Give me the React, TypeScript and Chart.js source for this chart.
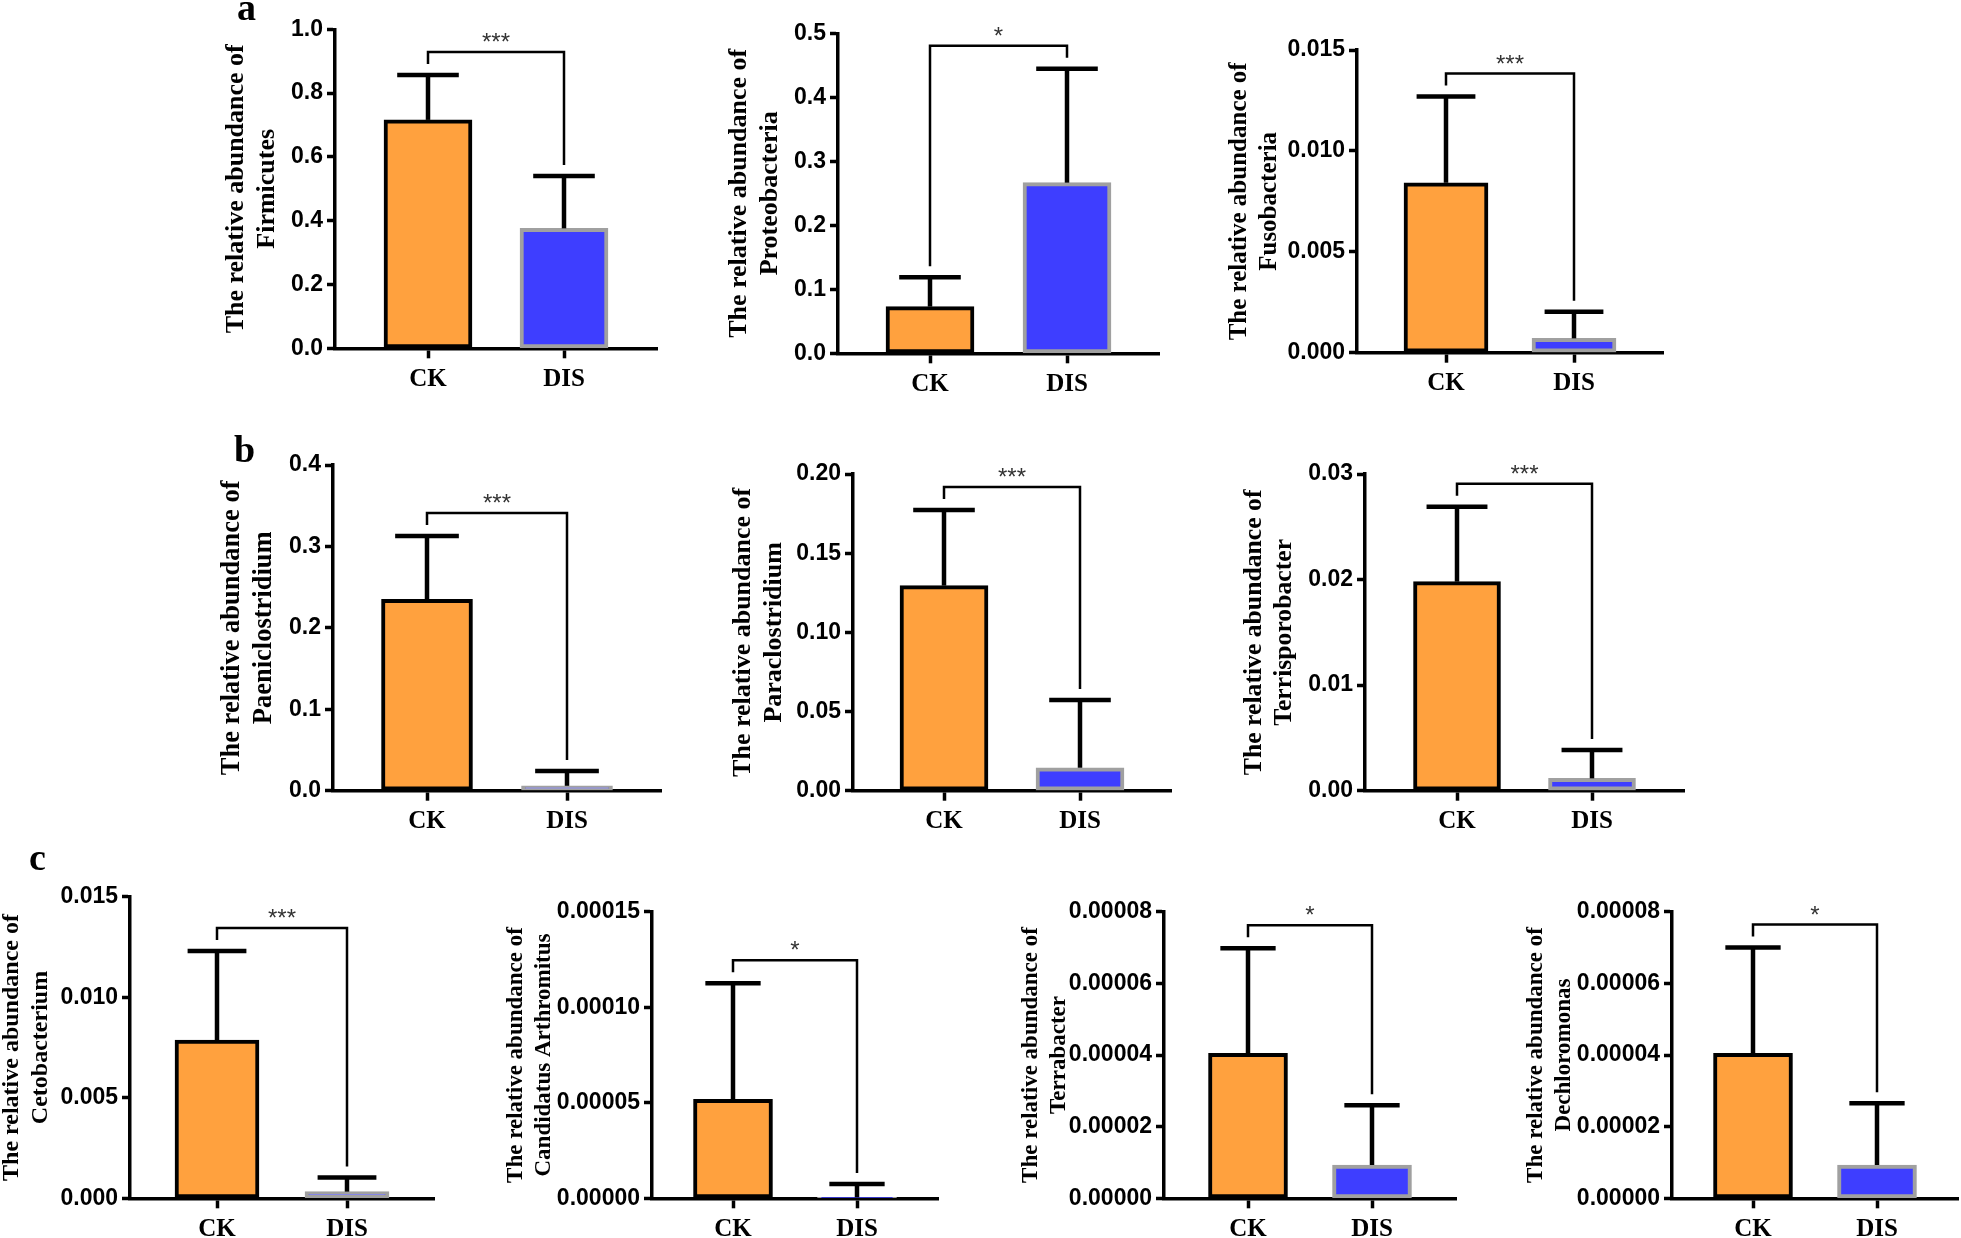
import React, { useEffect, useRef } from 'react';
import { Chart, registerables } from 'chart.js';

Chart.register(...registerables);

// ---------------- data ----------------
const CATEGORIES = ['CK', 'DIS'];
const TAXA = [
  'Firmicutes',
  'Proteobacteria',
  'Fusobacteria',
  'Paeniclostridium',
  'Paraclostridium',
  'Terrisporobacter',
  'Cetobacterium',
  'Candidatus Arthromitus',
  'Terrabacter',
  'Dechloromonas',
];
const MEAN_CK = [0.716, 0.0729, 0.00842, 0.235, 0.1295, 0.0198, 0.00787, 0.0000518, 0.0000405, 0.0000405];
const SD_CK = [0.141, 0.046, 0.00427, 0.0778, 0.0478, 0.0071, 0.00443, 0.0000607, 0.0000293, 0.0000295];
const MEAN_DIS = [0.376, 0.2666, 0.00071, 0.006, 0.0145, 0.00117, 0.00033, 0.0000005, 0.0000093, 0.0000093];
const SD_DIS = [0.164, 0.178, 0.00132, 0.0182, 0.0428, 0.00269, 0.00071, 0.000007, 0.0000167, 0.0000172];
const SIGNIFICANCE = ['***', '*', '***', '***', '***', '***', '***', '*', '*', '*'];

const Y_TICKS_A1 = ['0.0', '0.2', '0.4', '0.6', '0.8', '1.0'];
const Y_TICKS_A2 = ['0.0', '0.1', '0.2', '0.3', '0.4', '0.5'];
const Y_TICKS_A3 = ['0.000', '0.005', '0.010', '0.015'];
const Y_TICKS_B1 = ['0.0', '0.1', '0.2', '0.3', '0.4'];
const Y_TICKS_B2 = ['0.00', '0.05', '0.10', '0.15', '0.20'];
const Y_TICKS_B3 = ['0.00', '0.01', '0.02', '0.03'];
const Y_TICKS_C1 = ['0.000', '0.005', '0.010', '0.015'];
const Y_TICKS_C2 = ['0.00000', '0.00005', '0.00010', '0.00015'];
const Y_TICKS_C3 = ['0.00000', '0.00002', '0.00004', '0.00006', '0.00008'];
const Y_TICKS_C4 = ['0.00000', '0.00002', '0.00004', '0.00006', '0.00008'];
const Y_TICKS = [
  Y_TICKS_A1, Y_TICKS_A2, Y_TICKS_A3,
  Y_TICKS_B1, Y_TICKS_B2, Y_TICKS_B3,
  Y_TICKS_C1, Y_TICKS_C2, Y_TICKS_C3, Y_TICKS_C4,
];

const PANEL_LETTERS = ['a', 'b', 'c'];

// ---------------- layout / style ----------------
const LAYOUT = [
  { yAxisX: 335, topY: 29.3, zeroY: 348.3, ckX: 428, disX: 564, titleX: 236, titleSize: 26, barW: 88 },
  { yAxisX: 838, topY: 33.3, zeroY: 353.3, ckX: 930, disX: 1067, titleX: 738.5, titleSize: 26, barW: 88 },
  { yAxisX: 1357, topY: 50, zeroY: 352.7, ckX: 1446, disX: 1574, titleX: 1240, titleSize: 25, barW: 84 },
  { yAxisX: 333, topY: 465, zeroY: 790.7, ckX: 427, disX: 567, titleX: 232, titleSize: 26.5, barW: 91 },
  { yAxisX: 853, topY: 474, zeroY: 790.7, ckX: 944, disX: 1080, titleX: 743, titleSize: 26, barW: 88 },
  { yAxisX: 1365, topY: 474, zeroY: 790.7, ckX: 1457, disX: 1592, titleX: 1254, titleSize: 25.7, barW: 87 },
  { yAxisX: 130, topY: 896.7, zeroY: 1198.3, ckX: 217, disX: 347, titleX: 12, titleSize: 24, barW: 84 },
  { yAxisX: 652, topY: 911.7, zeroY: 1198.3, ckX: 733, disX: 857, titleX: 516, titleSize: 23, barW: 79 },
  { yAxisX: 1164, topY: 911.7, zeroY: 1198.3, ckX: 1248, disX: 1372, titleX: 1030.5, titleSize: 23, barW: 79 },
  { yAxisX: 1672, topY: 911.7, zeroY: 1198.3, ckX: 1753, disX: 1877, titleX: 1535.5, titleSize: 23, barW: 79 },
];
const LETTER_POS = [
  { left: 237, top: -12 },
  { left: 234, top: 430 },
  { left: 29, top: 838 },
];

const ORANGE = 'rgb(255,161,62)';
const BLUE = 'rgb(62,62,255)';
const GREY = 'rgb(160,160,160)';
const SERIF = '"Liberation Serif", "Times New Roman", serif';
const SANS = '"Liberation Sans", Arial, sans-serif';

function makeOverlay(idx: number) {
  return {
    id: 'errSig' + idx,
    afterDatasetsDraw(chart: any) {
      const ctx = chart.ctx;
      const meta = chart.getDatasetMeta(0);
      const ys = chart.scales.y;
      const means = [MEAN_CK[idx], MEAN_DIS[idx]];
      const sds = [SD_CK[idx], SD_DIS[idx]];
      const capYs: number[] = [];
      const xs: number[] = [];
      ctx.save();
      ctx.strokeStyle = '#000';
      ctx.lineCap = 'butt';
      meta.data.forEach((el: any, i: number) => {
        const x = el.x;
        const w = el.width;
        const yTop = ys.getPixelForValue(means[i]);
        const yCap = ys.getPixelForValue(means[i] + sds[i]);
        capYs.push(yCap);
        xs.push(x);
        ctx.lineWidth = 4.5;
        ctx.beginPath();
        ctx.moveTo(x, yTop);
        ctx.lineTo(x, yCap);
        ctx.stroke();
        ctx.beginPath();
        ctx.moveTo(x - w * 0.35, yCap);
        ctx.lineTo(x + w * 0.35, yCap);
        ctx.stroke();
      });
      // significance bracket
      const top = Math.min(capYs[0], capYs[1]) - 23;
      ctx.lineWidth = 2.5;
      ctx.beginPath();
      ctx.moveTo(xs[0], capYs[0] - 11);
      ctx.lineTo(xs[0], top);
      ctx.lineTo(xs[1], top);
      ctx.lineTo(xs[1], capYs[1] - 11);
      ctx.stroke();
      ctx.fillStyle = '#333';
      ctx.font = 'normal 24px ' + SANS;
      ctx.textAlign = 'center';
      ctx.textBaseline = 'alphabetic';
      ctx.fillText(SIGNIFICANCE[idx], (xs[0] + xs[1]) / 2, top - 2);
      ctx.restore();
    },
  };
}

function Panel({ idx }: { idx: number }) {
  const ref = useRef<HTMLCanvasElement>(null);
  const L = LAYOUT[idx];
  const lh = L.titleSize * 1.2;
  const left = Math.round(L.titleX - 40);
  const top = Math.round(L.topY - 60);
  const endX = L.disX + (L.ckX - L.yAxisX);
  const width = Math.round(endX + 20 - left);
  const height = Math.round(L.zeroY + 62 - top);

  useEffect(() => {
    const labels = Y_TICKS[idx];
    const tickVals = labels.map(Number);
    const span = L.disX - L.ckX;
    const chart = new Chart(ref.current as HTMLCanvasElement, {
      type: 'bar',
      data: {
        datasets: [
          {
            data: [
              { x: 0, y: MEAN_CK[idx] },
              { x: 1, y: MEAN_DIS[idx] },
            ],
            backgroundColor: [ORANGE, BLUE],
            borderColor: ['#000', GREY],
            borderWidth: 4,
            borderSkipped: false,
            barThickness: L.barW,
          } as any,
        ],
      },
      options: {
        responsive: false,
        animation: false,
        layout: { padding: { top: L.topY - top, right: left + width - endX, bottom: 0, left: 0 } },
        plugins: { legend: { display: false }, tooltip: { enabled: false } },
        scales: {
          x: {
            type: 'linear',
            offset: false,
            min: -(L.ckX - L.yAxisX) / span,
            max: 1 + (endX - L.disX) / span,
            afterBuildTicks: (s: any) => {
              s.ticks = [{ value: 0 }, { value: 1 }];
            },
            afterFit: (s: any) => {
              s.height = top + height - L.zeroY;
            },
            ticks: {
              callback: (_v: any, i: number) => CATEGORIES[i],
              autoSkip: false,
              maxRotation: 0,
              font: { family: SERIF, weight: 'bold', size: 25 },
              color: '#000',
              padding: 6,
            },
            grid: {
              display: true,
              drawOnChartArea: false,
              drawTicks: true,
              tickLength: 10,
              tickWidth: 3.5,
              tickColor: '#000',
              offset: false,
            },
            border: { display: true, color: '#000', width: 3.5 },
          } as any,
          y: {
            type: 'linear',
            min: 0,
            max: tickVals[tickVals.length - 1],
            afterBuildTicks: (s: any) => {
              s.ticks = tickVals.map((v) => ({ value: v }));
            },
            afterFit: (s: any) => {
              s.width = L.yAxisX - left;
            },
            ticks: {
              callback: (_v: any, i: number) => labels[i],
              font: { family: SANS, weight: 'bold', size: 23 },
              color: '#000',
              padding: 4,
            },
            grid: {
              display: true,
              drawOnChartArea: false,
              drawTicks: true,
              tickLength: 8,
              tickWidth: 3.5,
              tickColor: '#000',
            },
            border: { display: true, color: '#000', width: 3.5 },
            title: {
              display: true,
              text: ['The relative abundance of', TAXA[idx]],
              font: { family: SERIF, weight: 'bold', size: L.titleSize, lineHeight: 1.2 },
              color: '#000',
              padding: { top: 40 - lh / 2, bottom: 0 },
            },
          } as any,
        },
      },
      plugins: [makeOverlay(idx)],
    });
    return () => chart.destroy();
  }, []);

  return (
    <canvas
      ref={ref}
      width={width}
      height={height}
      style={{ position: 'absolute', left, top, width, height }}
    />
  );
}

export default function App() {
  return (
    <div
      style={{
        position: 'absolute',
        left: 0,
        top: 0,
        width: 1961,
        height: 1238,
        background: '#fff',
        overflow: 'hidden',
      }}
    >
      {LAYOUT.map((_, i) => (
        <Panel key={i} idx={i} />
      ))}
      {PANEL_LETTERS.map((t, i) => (
        <div
          key={t}
          style={{
            position: 'absolute',
            left: LETTER_POS[i].left,
            top: LETTER_POS[i].top,
            fontFamily: SERIF,
            fontWeight: 'bold',
            fontSize: 38,
            lineHeight: '38px',
            color: '#000',
          }}
        >
          {t}
        </div>
      ))}
    </div>
  );
}
